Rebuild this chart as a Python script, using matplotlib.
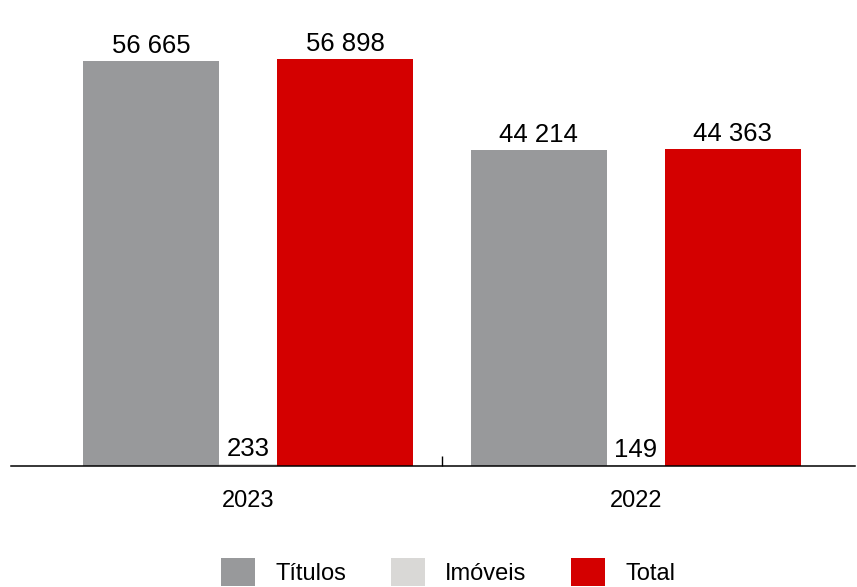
import matplotlib as mpl
import matplotlib.pyplot as plt
import numpy as np
from matplotlib.patches import Patch

plt.rcParams['font.family'] = ['Liberation Sans Narrow', 'Liberation Sans', 'DejaVu Sans']

years = ['2023', '2022']
titulos = [56665, 44214]
imoveis = [233, 149]
total = [56898, 44363]
series_names = ['Títulos', 'Imóveis', 'Total']

c_tit = '#98999b'
c_imo = '#d9d8d6'
c_tot = '#d40000'

def fmt(v):
    return '{:,}'.format(v).replace(',', ' ')

fig = plt.figure(figsize=(8.57, 5.87), dpi=100)
ax = fig.add_axes([11/857, 121/587, 844/857, 466/587])

x = np.arange(len(years))
bars_t = ax.bar(x - 0.25, titulos, width=0.351, color=c_tit)
bars_i = ax.bar(x, imoveis, width=0.15, color=c_imo)
bars_o = ax.bar(x + 0.25, total, width=0.351, color=c_tot)

for bars, vals in [(bars_t, titulos), (bars_i, imoveis), (bars_o, total)]:
    for b, v in zip(bars, vals):
        ax.annotate(fmt(v), (b.get_x() + b.get_width() / 2, b.get_height()),
                    xytext=(0, 6), textcoords='offset points',
                    ha='center', va='baseline', fontsize=18.5)

ax.set_xlim(-0.612, 1.566)
ax.set_ylim(0, 65200)

for s in ['top', 'right', 'left']:
    ax.spines[s].set_visible(False)
ax.spines['bottom'].set_linewidth(1.1)
ax.set_yticks([])
ax.set_xticks(x)
ax.set_xticklabels(years, fontsize=17)
ax.tick_params(axis='x', which='major', length=0, pad=17)
ax.set_xticks([0.5], minor=True)
ax.tick_params(axis='x', which='minor', direction='in', length=7, width=1.0)

handles = [Patch(facecolor=c_tit), Patch(facecolor=c_imo), Patch(facecolor=c_tot)]
fig.legend(handles, series_names, loc='center', bbox_to_anchor=(0.523, 15/587),
           ncol=3, frameon=False, fontsize=17, handlelength=1.44, handleheight=1.44,
           handletextpad=0.85, columnspacing=1.9, borderpad=0)

plt.savefig('out.png', dpi=100)
